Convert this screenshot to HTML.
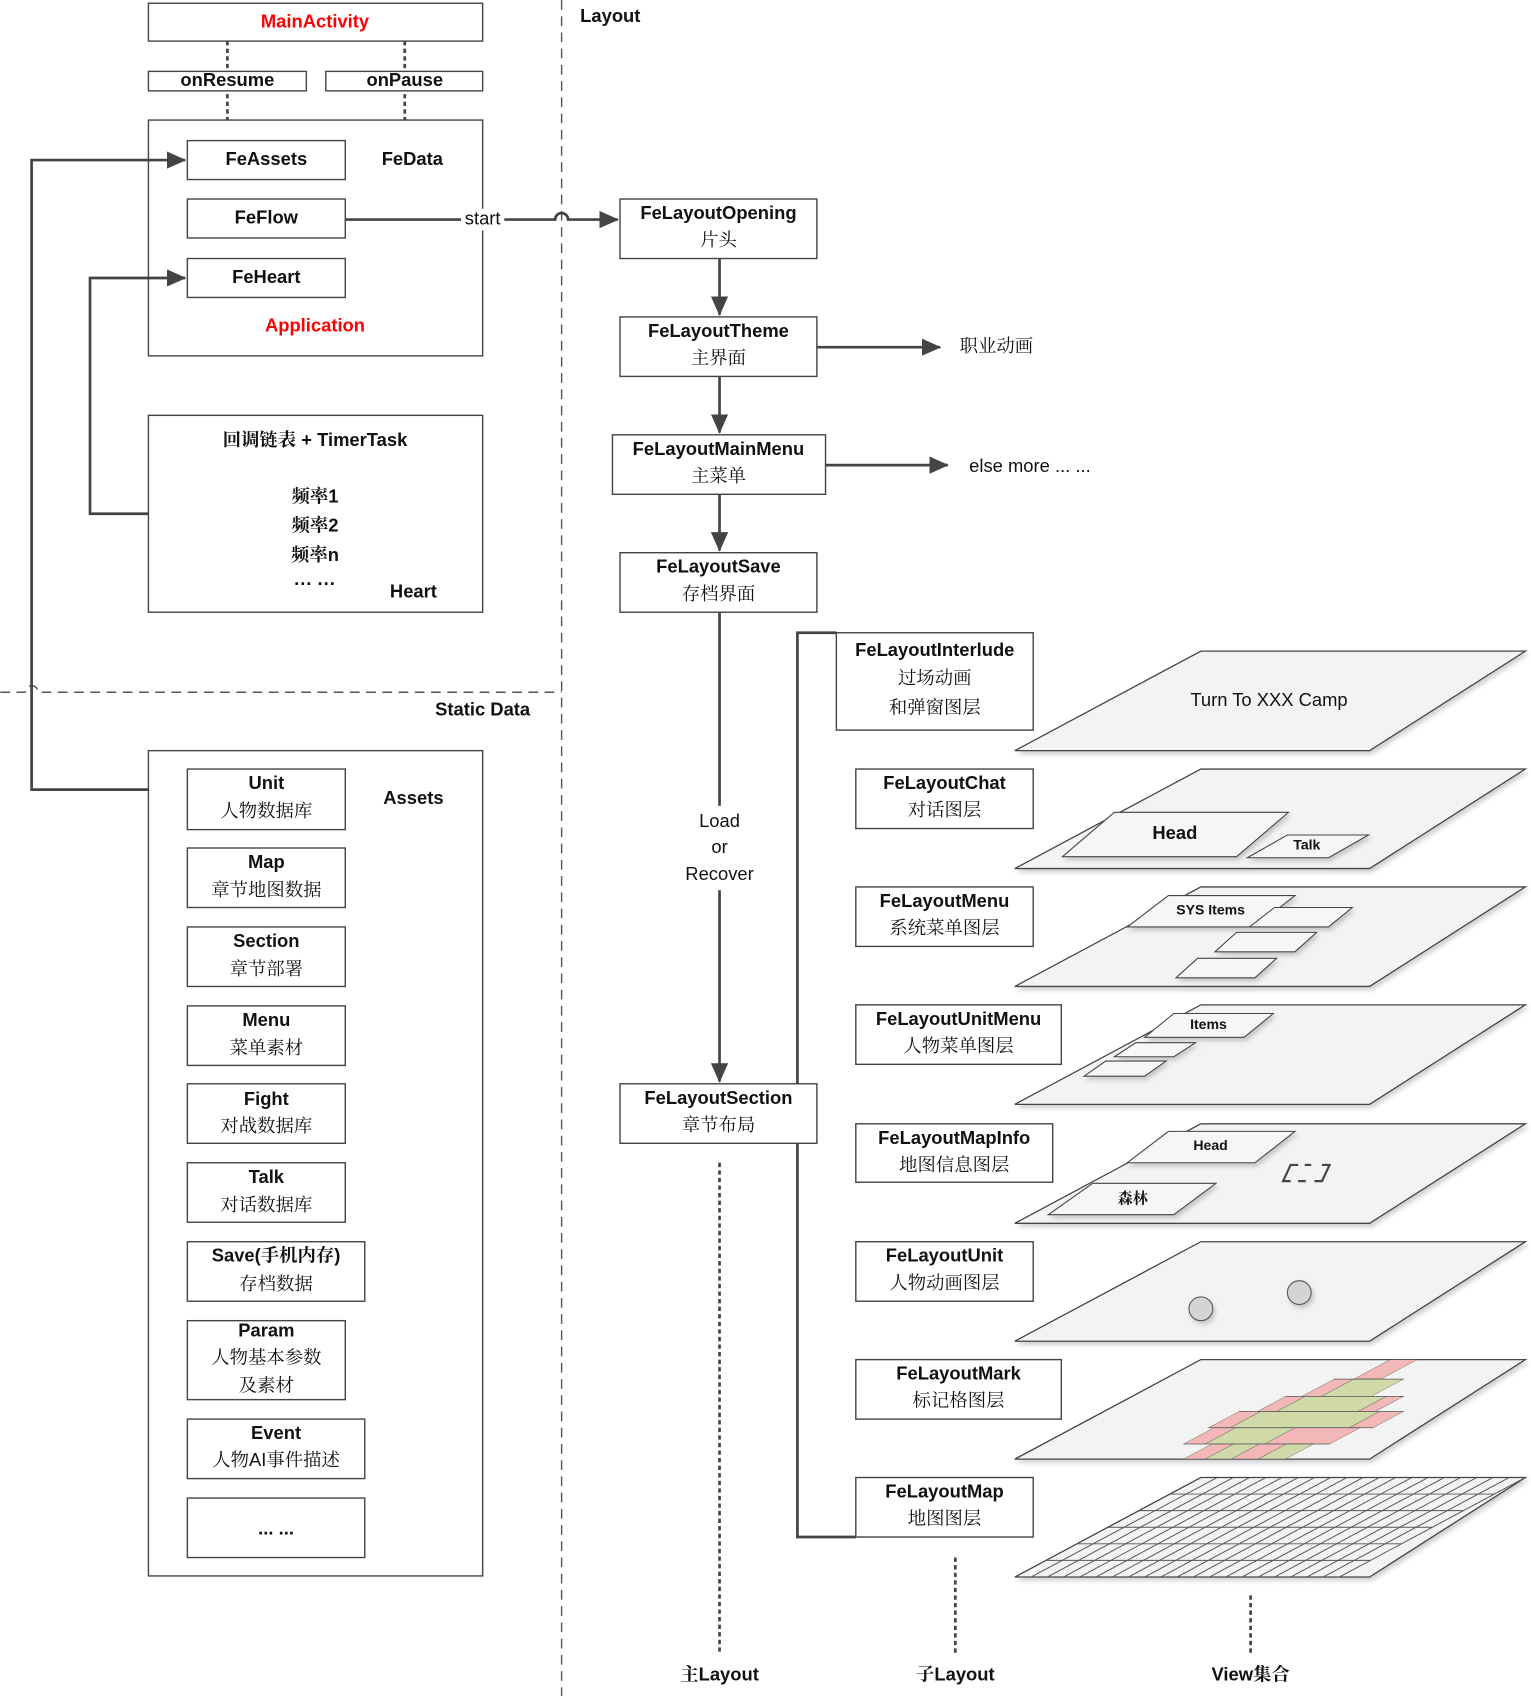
<!DOCTYPE html>
<html><head><meta charset="utf-8"><style>
html,body{margin:0;padding:0;background:#fff;}
svg{display:block;}
text{font-family:"Liberation Sans","Noto Serif CJK SC",serif;font-size:17px;fill:#111;text-anchor:middle;dominant-baseline:middle;}
.b{font-weight:bold;}
.r{fill:#f00;font-weight:bold;}
.box{fill:#fff;stroke:#444;stroke-width:1.3;}
.ln{stroke:#444;stroke-width:2.5;fill:none;}
.pl{fill:#f3f3f3;stroke:#444;stroke-width:1.2;}
.sm{fill:#f6f6f6;stroke:#444;stroke-width:1;}
</style></head><body>
<svg width="1531" height="1696" viewBox="0 0 1415 1568" xmlns="http://www.w3.org/2000/svg">
<defs>
<marker id="ar2" markerWidth="18" markerHeight="16" refX="17" refY="8" orient="auto" markerUnits="userSpaceOnUse" viewBox="0 0 18 16"><path d="M0,0 L18,8 L0,16 z" fill="#444"/></marker>
<filter id="sh" x="-5%" y="-5%" width="115%" height="125%"><feDropShadow dx="2" dy="3" stdDeviation="2" flood-color="#000" flood-opacity="0.18"/></filter>
</defs>

<line x1="519" y1="0" x2="519" y2="1568" stroke="#555" stroke-width="1.3" stroke-dasharray="9,6"/>
<path d="M0,640 L23,640 A6,6 0 0 1 35,640 L519,640" stroke="#555" stroke-width="1.3" stroke-dasharray="9,6" fill="none"/>
<text x="564" y="16" class="b">Layout</text>
<text x="446" y="657" class="b">Static Data</text>

<line x1="210" y1="38" x2="210" y2="111" stroke="#444" stroke-width="2.5" stroke-dasharray="4,3"/>
<line x1="374" y1="38" x2="374" y2="111" stroke="#444" stroke-width="2.5" stroke-dasharray="4,3"/>
<rect x="137" y="3" width="309" height="35" class="box"/>
<text x="291" y="21" class="r">MainActivity</text>
<rect x="137" y="66" width="146" height="18" class="box"/>
<text x="210" y="75" class="b">onResume</text>
<rect x="301" y="66" width="145" height="18" class="box"/>
<text x="374" y="75" class="b">onPause</text>

<rect x="137" y="111" width="309" height="218" class="box"/>
<rect x="173" y="130" width="146" height="36" class="box"/><text x="246" y="148" class="b">FeAssets</text>
<text x="381" y="148" class="b">FeData</text>
<rect x="173" y="184" width="146" height="36" class="box"/><text x="246" y="202" class="b">FeFlow</text>
<rect x="173" y="239" width="146" height="36" class="box"/><text x="246" y="257" class="b">FeHeart</text>
<text x="291" y="302" class="r">Application</text>

<path d="M319,203 L513,203 A6,6 0 0 1 525,203 L571,203" class="ln" marker-end="url(#ar2)"/>
<rect x="426" y="193" width="40" height="20" fill="#fff"/>
<text x="446" y="203">start</text>

<rect x="137" y="384" width="309" height="182" class="box"/>
<text x="291" y="408" class="b">回调链表 + TimerTask</text>
<text x="291" y="460" class="b">频率1</text>
<text x="291" y="487" class="b">频率2</text>
<text x="291" y="514" class="b">频率n</text>
<text x="291" y="541" class="b">··· ···</text>
<text x="382" y="548" class="b">Heart</text>
<path d="M137,475 L83,475 L83,257 L171,257" class="ln" marker-end="url(#ar2)"/>
<path d="M137,730 L29,730 L29,148 L171,148" class="ln" marker-end="url(#ar2)"/>

<rect x="137" y="694" width="309" height="763" class="box"/>
<text x="382" y="739" class="b">Assets</text>
<rect x="173" y="711" width="146" height="56" class="box"/><text x="246" y="725" class="b">Unit</text><text x="246" y="751">人物数据库</text>
<rect x="173" y="784" width="146" height="55" class="box"/><text x="246" y="798" class="b">Map</text><text x="246" y="824">章节地图数据</text>
<rect x="173" y="857" width="146" height="55" class="box"/><text x="246" y="871" class="b">Section</text><text x="246" y="897">章节部署</text>
<rect x="173" y="930" width="146" height="55" class="box"/><text x="246" y="944" class="b">Menu</text><text x="246" y="970">菜单素材</text>
<rect x="173" y="1002" width="146" height="55" class="box"/><text x="246" y="1017" class="b">Fight</text><text x="246" y="1042">对战数据库</text>
<rect x="173" y="1075" width="146" height="55" class="box"/><text x="246" y="1089" class="b">Talk</text><text x="246" y="1115">对话数据库</text>
<rect x="173" y="1148" width="164" height="55" class="box"/><text x="255" y="1162" class="b">Save(手机内存)</text><text x="255" y="1188">存档数据</text>
<rect x="173" y="1221" width="146" height="73" class="box"/><text x="246" y="1231" class="b">Param</text><text x="246" y="1256">人物基本参数</text><text x="246" y="1282">及素材</text>
<rect x="173" y="1312" width="164" height="55" class="box"/><text x="255" y="1326" class="b">Event</text><text x="255" y="1351">人物AI事件描述</text>
<rect x="173" y="1385" width="164" height="55" class="box"/><text x="255" y="1414" class="b">... ...</text>

<line x1="665" y1="239" x2="665" y2="291" class="ln" marker-end="url(#ar2)"/>
<line x1="665" y1="348" x2="665" y2="400" class="ln" marker-end="url(#ar2)"/>
<line x1="665" y1="457" x2="665" y2="509" class="ln" marker-end="url(#ar2)"/>
<line x1="755" y1="321" x2="869" y2="321" class="ln" marker-end="url(#ar2)"/>
<text x="921" y="321">职业动画</text>
<line x1="763" y1="430" x2="876" y2="430" class="ln" marker-end="url(#ar2)"/>
<text x="952" y="432">else more ... ...</text>
<line x1="665" y1="566" x2="665" y2="1000" class="ln" marker-end="url(#ar2)"/>
<rect x="630" y="745" width="70" height="78" fill="#fff"/>
<text x="665" y="760">Load</text><text x="665" y="784">or</text><text x="665" y="809">Recover</text>
<path d="M773,585 L737,585 L737,1421 L791,1421" class="ln"/>

<rect x="573" y="184" width="182" height="55" class="box"/><text x="664" y="198" class="b">FeLayoutOpening</text><text x="664" y="223">片头</text>
<rect x="573" y="293" width="182" height="55" class="box"/><text x="664" y="307" class="b">FeLayoutTheme</text><text x="664" y="332">主界面</text>
<rect x="566" y="402" width="197" height="55" class="box"/><text x="664" y="416" class="b">FeLayoutMainMenu</text><text x="664" y="441">主菜单</text>
<rect x="573" y="511" width="182" height="55" class="box"/><text x="664" y="525" class="b">FeLayoutSave</text><text x="664" y="550">存档界面</text>
<rect x="573" y="1002" width="182" height="55" class="box"/><text x="664" y="1016" class="b">FeLayoutSection</text><text x="664" y="1041">章节布局</text>
<line x1="665" y1="1075" x2="665" y2="1530" stroke="#444" stroke-width="2.5" stroke-dasharray="4,3"/>
<text x="665" y="1549" class="b">主Layout</text>

<rect x="773" y="585" width="182" height="90" class="box"/><text x="864" y="602" class="b">FeLayoutInterlude</text><text x="864" y="628">过场动画</text><text x="864" y="655">和弹窗图层</text>
<rect x="791" y="711" width="164" height="55" class="box"/><text x="873" y="725" class="b">FeLayoutChat</text><text x="873" y="750">对话图层</text>
<rect x="791" y="820" width="164" height="55" class="box"/><text x="873" y="834" class="b">FeLayoutMenu</text><text x="873" y="859">系统菜单图层</text>
<rect x="791" y="929" width="190" height="55" class="box"/><text x="886" y="943" class="b">FeLayoutUnitMenu</text><text x="886" y="968">人物菜单图层</text>
<rect x="791" y="1039" width="182" height="54" class="box"/><text x="882" y="1053" class="b">FeLayoutMapInfo</text><text x="882" y="1078">地图信息图层</text>
<rect x="791" y="1148" width="164" height="55" class="box"/><text x="873" y="1162" class="b">FeLayoutUnit</text><text x="873" y="1187">人物动画图层</text>
<rect x="791" y="1257" width="190" height="55" class="box"/><text x="886" y="1271" class="b">FeLayoutMark</text><text x="886" y="1296">标记格图层</text>
<rect x="791" y="1366" width="164" height="55" class="box"/><text x="873" y="1380" class="b">FeLayoutMap</text><text x="873" y="1405">地图图层</text>
<line x1="883" y1="1440" x2="883" y2="1530" stroke="#444" stroke-width="2.5" stroke-dasharray="4,3"/>
<text x="883" y="1549" class="b">子Layout</text>
<line x1="1156" y1="1475" x2="1156" y2="1530" stroke="#444" stroke-width="2.5" stroke-dasharray="4,3"/>
<text x="1156" y="1549" class="b">View集合</text>

<g filter="url(#sh)">
<path class="pl" d="M1110,602 L1410,602 L1266,694 L938,694 Z"/>
<path class="pl" d="M1110,711 L1410,711 L1266,803 L938,803 Z"/>
<path class="pl" d="M1110,820 L1410,820 L1266,912 L938,912 Z"/>
<path class="pl" d="M1110,929 L1410,929 L1266,1021 L938,1021 Z"/>
<path class="pl" d="M1110,1039 L1410,1039 L1266,1131 L938,1131 Z"/>
<path class="pl" d="M1110,1148 L1410,1148 L1266,1240 L938,1240 Z"/>
<path class="pl" d="M1110,1257 L1410,1257 L1266,1349 L938,1349 Z"/>
<path class="pl" d="M1110,1366 L1410,1366 L1266,1458 L938,1458 Z"/>
</g>
<text x="1173" y="648">Turn To XXX Camp</text>

<g filter="url(#sh)">
<path class="sm" d="M1030,751 L1191,751 L1143,792 L982,792 Z"/>
<path class="sm" d="M1190,772 L1265,772 L1228,793 L1153,793 Z"/>
<path class="sm" d="M1080,828 L1197,828 L1160,857 L1042,857 Z"/>
<path class="sm" d="M1178,839 L1250,839 L1228,857 L1155,857 Z"/>
<path class="sm" d="M1143,862 L1217,862 L1197,880 L1123,880 Z"/>
<path class="sm" d="M1107,886 L1180,886 L1160,904 L1087,904 Z"/>
<path class="sm" d="M1085,937 L1177,937 L1150,959 L1058,959 Z"/>
<path class="sm" d="M1050,964 L1105,964 L1085,977 L1030,977 Z"/>
<path class="sm" d="M1022,981 L1078,981 L1058,995 L1002,995 Z"/>
<path class="sm" d="M1080,1046 L1197,1046 L1160,1075 L1042,1075 Z"/>
<path class="sm" d="M1010,1094 L1124,1094 L1085,1123 L969,1123 Z"/>
<circle cx="1110" cy="1210" r="11" fill="#d4d4d4" stroke="#555"/>
<circle cx="1201" cy="1195" r="11" fill="#d4d4d4" stroke="#555"/>
</g>
<text x="1086" y="771" class="b">Head</text>
<text x="1208" y="782" class="b" style="font-size:13px">Talk</text>
<text x="1119" y="842" class="b" style="font-size:13px">SYS Items</text>
<text x="1117" y="948" class="b" style="font-size:13px">Items</text>
<text x="1119" y="1060" class="b" style="font-size:13px">Head</text>
<text x="1047" y="1109" class="b" style="font-size:14px">森林</text>
<path d="M1200,1077 L1193,1077 L1186,1092 L1193,1092 M1215,1092 L1222,1092 L1229,1077 L1222,1077 M1206,1077 L1212,1077 M1200,1092 L1207,1092" stroke="#444" stroke-width="2" fill="none"/>

<g transform="matrix(1,0,-1.87,1,1110,1257)" stroke="#555" stroke-width="0.7">
<rect x="175" y="0" width="25" height="18" fill="#f2b8b8"/>
<rect x="157" y="18" width="18" height="16" fill="#f2b8b8"/>
<rect x="175" y="18" width="46" height="16" fill="#cfdaa8"/>
<rect x="142" y="34" width="18" height="14" fill="#f2b8b8"/>
<rect x="160" y="34" width="75" height="14" fill="#cfdaa8"/>
<rect x="235" y="34" width="16" height="14" fill="#f2b8b8"/>
<rect x="125" y="48" width="20" height="15" fill="#f2b8b8"/>
<rect x="145" y="48" width="110" height="15" fill="#cfdaa8"/>
<rect x="255" y="48" width="22" height="15" fill="#f2b8b8"/>
<rect x="130" y="63" width="20" height="15" fill="#f2b8b8"/>
<rect x="150" y="63" width="55" height="15" fill="#cfdaa8"/>
<rect x="205" y="63" width="60" height="15" fill="#f2b8b8"/>
<rect x="156" y="78" width="20" height="14" fill="#f2b8b8"/>
<rect x="176" y="78" width="24" height="14" fill="#cfdaa8"/>
<rect x="200" y="78" width="25" height="14" fill="#f2b8b8"/>
<rect x="225" y="78" width="25" height="14" fill="#cfdaa8"/>
</g>

<!-- grid explicit -->
<g stroke="#555" stroke-width="0.9" fill="none">
<path d="M1081,1381.3H1381 M1053,1396.6H1353 M1024,1412H1324 M995,1427.3H1295 M967,1442.6H1267"/>
<path d="M1125,1366L953,1458 M1140,1366L968,1458 M1155,1366L983,1458 M1170,1366L998,1458 M1185,1366L1013,1458 M1200,1366L1028,1458 M1215,1366L1043,1458 M1230,1366L1058,1458 M1245,1366L1073,1458 M1260,1366L1088,1458 M1275,1366L1103,1458 M1290,1366L1118,1458 M1305,1366L1133,1458 M1320,1366L1148,1458 M1335,1366L1163,1458 M1350,1366L1178,1458 M1365,1366L1193,1458 M1380,1366L1208,1458 M1395,1366L1223,1458 M1410,1366L1238,1458"/>
</g>
</svg>
</body></html>
